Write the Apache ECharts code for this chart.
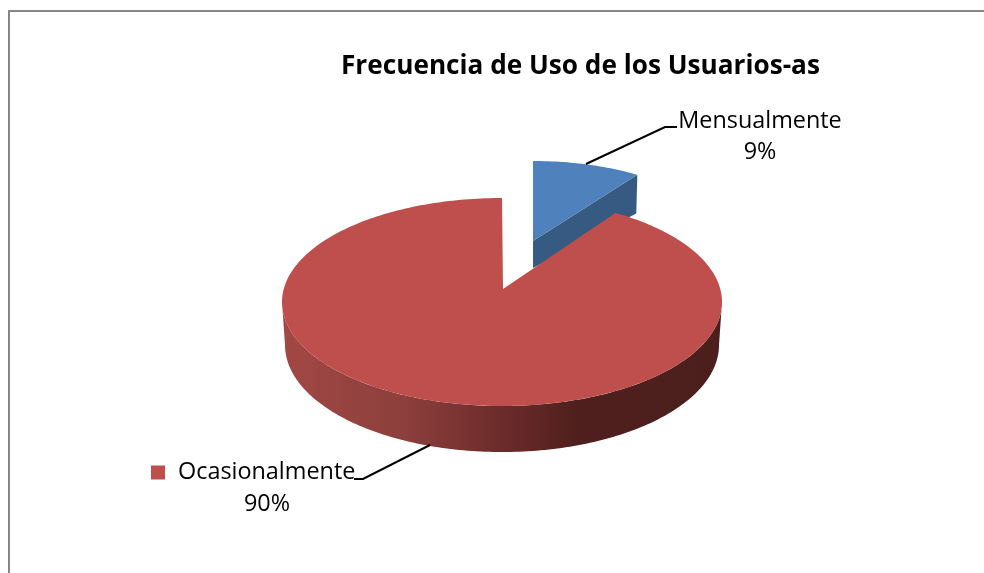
<!DOCTYPE html>
<html><head><meta charset="utf-8">
<style>html,body{margin:0;padding:0;background:#fff}#c{width:984px;height:573px}</style>
<script src="https://cdn.jsdelivr.net/npm/echarts@6/dist/echarts.min.js"></script>
</head><body><div id="c"></div>
<script>
const titleText = 'Frecuencia de Uso de los Usuarios-as';
const categories = ['Mensualmente', 'Ocasionalmente'];
const values = [9, 90];
const percentLabels = ['9%', '90%'];
const colors = ['#4F81BD', '#BF4F4C'];
const FONT = '"Open Sans"';

const total = values.reduce((s,v)=>s+v,0);

// Projected geometry of each exploded slice (view settings, not data)
const views = [
  {apex:[533,241], cx:533, cy:248, rx:193, ry:87, bcx:533, bcy:285, brx:191, bry:85, apexB:[533,268], warp:0},
  {apex:[503,289], cx:502, cy:302, rx:220, ry:104, bcx:502, bcy:345, brx:217, bry:107, apexB:[503,316], warp:0.055}
];
const labelSpec = [
  {x:760, y:121, y2:152, line:[[586,164],[665,127],[677,127]]},
  {x:267, y2:504, line:[[430,445],[363,479],[354,479]], noName:true}
];

function pt(cx, cy, rx, ry, t, k){ const u = t - (k||0)*Math.sin(t); return [cx + rx*Math.sin(u), cy - ry*Math.cos(u)]; }
function arc(cx, cy, rx, ry, a, b, k){
  const out = [], n = Math.max(2, Math.ceil(Math.abs(b-a)/0.02));
  for (let i=0;i<=n;i++) out.push(pt(cx,cy,rx,ry,a+(b-a)*i/n,k));
  return out;
}
function renderSlice(idx){
  return function(params, api){
    const v = views[idx], l = labelSpec[idx];
    const val = api.value(0);
    const before = values.slice(0,idx).reduce((s,x)=>s+x,0);
    const a = before/total*2*Math.PI;
    const b = a + val/total*2*Math.PI;
    const children = [];
    const top = arc(v.cx,v.cy,v.rx,v.ry,a,b,v.warp);
    const f0 = Math.max(a, Math.PI/2), f1 = Math.min(b, 3*Math.PI/2);
    if (f1 > f0) {
      const rimTop = arc(v.cx,v.cy,v.rx,v.ry,f0,f1);
      const rimBot = arc(v.bcx,v.bcy,v.brx,v.bry,f1,f0);
      children.push({type:'polygon', shape:{points:rimTop.concat(rimBot)}, style:{
        fill:new echarts.graphic.LinearGradient(0,0,1,0,[
          {offset:0,color:'#A24845'},{offset:0.28,color:'#8C3F3C'},{offset:0.5,color:'#6C2B2A'},
          {offset:0.68,color:'#4E1F1D'},{offset:1,color:'#4C1F1D'}])
      }});
    }
    if (idx === 0) {
      const e = pt(v.cx,v.cy,v.rx,v.ry,b), e2 = pt(v.bcx,v.bcy,v.brx,v.bry,b);
      children.push({type:'polygon', shape:{points:[v.apex,e,e2,v.apexB]}, style:{fill:'#375A82'}});
    }
    children.push({type:'polygon', shape:{points:[v.apex].concat(top)}, style:{fill:colors[idx]}});
    children.push({type:'polyline', shape:{points:l.line}, style:{stroke:'#000',lineWidth:2,fill:'none'}});
    if (!l.noName) children.push({type:'text', style:{text:categories[idx],x:l.x,y:l.y,align:'center',verticalAlign:'middle',font:'23.4px '+FONT,fill:'#000'}});
    children.push({type:'text', style:{text:percentLabels[idx],x:l.x,y:l.y2,align:'center',verticalAlign:'middle',font:'23.4px '+FONT,fill:'#000'}});
    return {type:'group', children};
  };
}
const chart = echarts.init(document.getElementById('c'), null, {renderer:'canvas'});
chart.setOption({
  animation:false,
  backgroundColor:'#fff',
  title:{text:titleText,left:336,top:49,itemGap:0,textStyle:{fontFamily:FONT,fontWeight:'bold',fontSize:26.2,color:'#000'}},
  legend:{data:[categories[1]],left:151,top:461,icon:'rect',itemWidth:14,itemHeight:14,itemGap:0,selectedMode:false,
    padding:0,textStyle:{fontFamily:FONT,fontSize:23.4,color:'#000',padding:[0,0,0,8]}},
  graphic:[{type:'rect',silent:true,z:-1,shape:{x:9,y:11,width:1000,height:600},style:{fill:'#fff',stroke:'#868686',lineWidth:2}}],
  xAxis:{show:false},yAxis:{show:false},
  series: categories.map((name,i)=>({
    type:'custom', name, coordinateSystem:'none', silent:true,
    itemStyle:{color:colors[i]},
    renderItem:renderSlice(i), data:[[values[i]]]
  }))
});
</script></body></html>
